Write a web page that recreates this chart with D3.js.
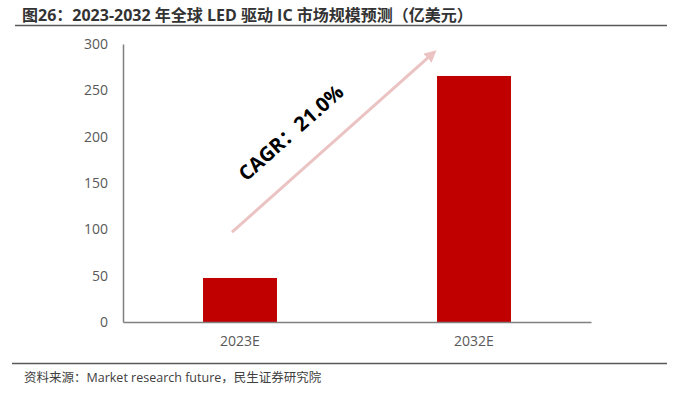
<!DOCTYPE html>
<meta charset="utf-8">
<title>LED IC</title>
<style>
  body { margin: 0; background: #fff; }
  svg { display: block; font-family: "Open Sans", "Noto Sans CJK SC", sans-serif; }
  .tick text { fill: #595959; font-size: 14px; font-family: "Open Sans", "Noto Sans CJK SC", sans-serif; }
</style>
<body>
<svg width="673" height="395" id="chart"></svg>
<script src="https://d3js.org/d3.v7.min.js"></script>
<script>
// data
var categories = ["2023E", "2032E"];
var values = [47.5, 265.5];
var yTicks = [0, 50, 100, 150, 200, 250, 300];
var titleText = "图26：2023-2032 年全球 LED 驱动 IC 市场规模预测（亿美元）";
var sourceText = "资料来源：Market research future，民生证券研究院";
var cagrText = "CAGR：21.0%";

var svg = d3.select("#chart");

var x = d3.scaleBand()
    .domain(categories)
    .range([123, 591])
    .paddingInner(0.684)
    .paddingOuter(0.342);

var y = d3.scaleLinear()
    .domain([0, 300])
    .range([322, 44]);

// title + rules
svg.append("text")
    .attr("x", 22).attr("y", 21)
    .attr("font-size", 16).attr("font-weight", "bold")
    .attr("fill", "#333")
    .text(titleText);
svg.append("line")
    .attr("x1", 15).attr("x2", 667).attr("y1", 25.5).attr("y2", 25.5)
    .attr("stroke", "#595959").attr("stroke-width", 1.5);
svg.append("line")
    .attr("x1", 12).attr("x2", 667).attr("y1", 363.5).attr("y2", 363.5)
    .attr("stroke", "#595959").attr("stroke-width", 1.5);
svg.append("text")
    .attr("x", 24).attr("y", 382)
    .attr("font-size", 12.5).attr("fill", "#404040")
    .text(sourceText);

// bars
svg.selectAll("rect.bar")
  .data(values)
  .enter().append("rect")
    .attr("class", "bar")
    .attr("x", function(d, i) { return x(categories[i]); })
    .attr("width", x.bandwidth())
    .attr("y", function(d) { return y(d); })
    .attr("height", function(d) { return y(0) - y(d); })
    .attr("fill", "#c00000");

// axes
var gy = svg.append("g")
    .attr("transform", "translate(123,0)")
    .call(d3.axisLeft(y).tickValues(yTicks).tickSize(0).tickPadding(15));
gy.select(".domain").attr("stroke", "#808080").attr("stroke-width", 1.5);

var gx = svg.append("g")
    .attr("transform", "translate(0,322)")
    .call(d3.axisBottom(x).tickSize(0).tickPadding(14));
gx.select(".domain").attr("stroke", "#808080").attr("stroke-width", 1.5);

// CAGR arrow
svg.append("defs").append("marker")
    .attr("id", "head")
    .attr("viewBox", "0 0 10 10")
    .attr("refX", 5).attr("refY", 5)
    .attr("markerWidth", 4).attr("markerHeight", 4)
    .attr("orient", "auto")
  .append("path")
    .attr("d", "M0,0L10,5L0,10z")
    .attr("fill", "#ebc3c3");

var x0 = 232, x1 = 432;
svg.append("line")
    .attr("x1", x0).attr("y1", y(97))
    .attr("x2", x1).attr("y2", y(289))
    .attr("stroke", "#ebc3c3").attr("stroke-width", 3)
    .attr("marker-end", "url(#head)");

var ang = Math.atan2(y(289) - y(97), x1 - x0) * 180 / Math.PI;
svg.append("text")
    .attr("transform", "translate(292,134) rotate(" + ang + ")")
    .attr("text-anchor", "middle")
    .attr("dominant-baseline", "middle")
    .attr("font-size", 20).attr("font-weight", "bold")
    .attr("fill", "#000")
    .text(cagrText);
</script>
</body>
